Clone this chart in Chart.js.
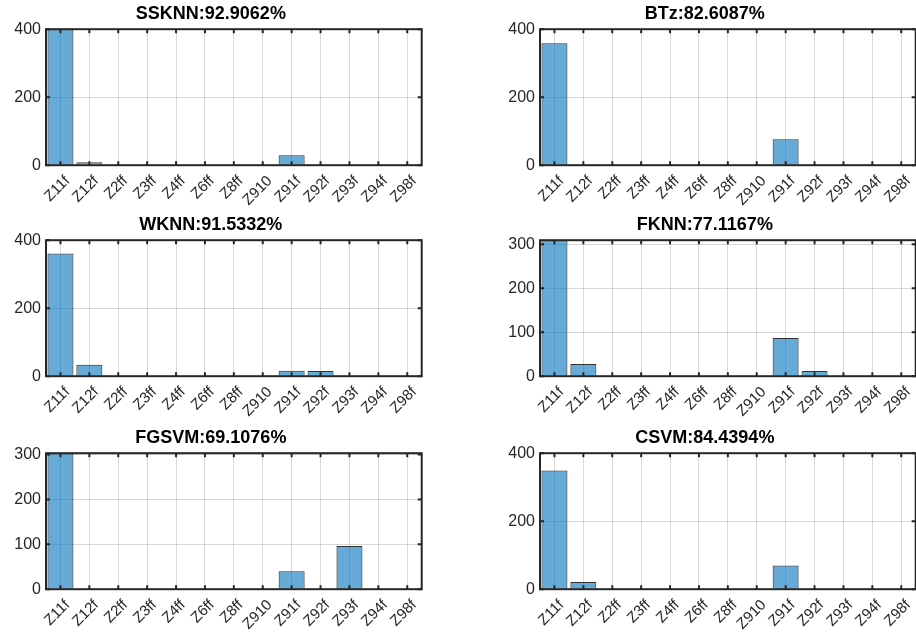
<!DOCTYPE html>
<html>
<head>
<meta charset="utf-8">
<script src="https://cdn.jsdelivr.net/npm/chart.js@4.4.1/dist/chart.umd.min.js"></script>
<style>
html, body { margin: 0; padding: 0; background: #fff; overflow: hidden; }
body { width: 916px; height: 636px; position: relative; }
canvas { position: absolute; }
</style>
</head>
<body>
<canvas id="c0" width="440" height="210" style="left:0px;top:0px"></canvas>
<canvas id="c1" width="441" height="210" style="left:494px;top:0px"></canvas>
<canvas id="c2" width="440" height="210" style="left:0px;top:211px"></canvas>
<canvas id="c3" width="441" height="210" style="left:494px;top:211px"></canvas>
<canvas id="c4" width="440" height="210" style="left:0px;top:424px"></canvas>
<canvas id="c5" width="441" height="210" style="left:494px;top:424px"></canvas>
<script>
// category labels shared by every panel
var categories = ['Z11f', 'Z12f', 'Z2ff', 'Z3ff', 'Z4ff', 'Z6ff', 'Z8ff', 'Z910', 'Z91f', 'Z92f', 'Z93f', 'Z94f', 'Z98f'];

// counts per class
var ssknn = [400, 9, 0, 0, 0, 0, 0, 0, 29, 0, 0, 0, 0];
var btz   = [359, 3, 0, 0, 0, 0, 0, 0, 76, 0, 0, 0, 0];
var wknn  = [361, 34, 0, 0, 0, 0, 0, 0, 16, 15, 0, 0, 0];
var fknn  = [309, 28, 0, 0, 0, 0, 0, 0, 87, 12, 0, 0, 0];
var fgsvm = [303, 0, 0, 0, 0, 0, 0, 0, 40, 0, 96, 0, 0];
var csvm  = [349, 21, 0, 0, 0, 0, 0, 0, 70, 0, 0, 0, 0];

var titles = ['SSKNN:92.9062%', 'BTz:82.6087%', 'WKNN:91.5332%', 'FKNN:77.1167%', 'FGSVM:69.1076%', 'CSVM:84.4394%'];
var series = [ssknn, btz, wknn, fknn, fgsvm, csvm];
var yMax = [400, 400, 400, 309, 303, 400];
var yStep = [200, 200, 200, 100, 100, 200];

var FONT = "'Liberation Sans', Arial, sans-serif";

// draws the closed axes box with inward tick marks
var boxPlugin = {
	id: 'matlabBox',
	afterDraw: function(chart) {
		var ctx = chart.ctx, a = chart.chartArea;
		var xs = chart.scales.x, ys = chart.scales.y;
		ctx.save();
		ctx.strokeStyle = '#262626';
		ctx.lineWidth = 2;
		ctx.strokeRect(a.left, a.top, a.right - a.left, a.bottom - a.top);
		ctx.beginPath();
		xs.ticks.forEach(function(t, i) {
			var x = xs.getPixelForTick(i);
			ctx.moveTo(x, a.bottom); ctx.lineTo(x, a.bottom - 4);
			ctx.moveTo(x, a.top); ctx.lineTo(x, a.top + 4);
		});
		ys.ticks.forEach(function(t, i) {
			var y = ys.getPixelForTick(i);
			ctx.moveTo(a.left, y); ctx.lineTo(a.left + 4, y);
			ctx.moveTo(a.right, y); ctx.lineTo(a.right - 4, y);
		});
		ctx.stroke();
		ctx.restore();
	}
};

series.forEach(function(values, k) {
	var canvas = document.getElementById('c' + k);
	var step = yStep[k];
	var top = yMax[k];
	new Chart(canvas.getContext('2d'), {
		type: 'bar',
		data: {
			labels: categories,
			datasets: [{
				data: values,
				backgroundColor: 'rgba(0, 114, 189, 0.6)',
				borderColor: 'rgba(0, 0, 0, 0.8)',
				borderWidth: 1,
				barPercentage: 0.9,
				categoryPercentage: 1
			}]
		},
		options: {
			responsive: false,
			animation: false,
			devicePixelRatio: 1,
			layout: { padding: { left: 0, right: canvas.width - 421.7, top: 0, bottom: 0 } },
			plugins: {
				legend: { display: false },
				tooltip: { enabled: false },
				title: {
					display: true,
					text: titles[k],
					color: '#000',
					font: { family: FONT, size: 18, weight: 'bold' },
					padding: { top: 3, bottom: 4.6 }
				}
			},
			scales: {
				x: {
					offset: true,
					grid: { offset: false, color: 'rgba(0,0,0,0.15)', drawTicks: false },
					border: { display: false },
					ticks: {
						autoSkip: false, minRotation: 45, maxRotation: 45,
						color: '#262626', padding: 7, labelOffset: 7,
						font: { family: FONT, size: 15 }
					},
					afterFit: function(s) { s.height = 44.8; }
				},
				y: {
					min: 0,
					max: top,
					grid: { color: 'rgba(0,0,0,0.15)', drawTicks: false },
					border: { display: false },
					ticks: {
						autoSkip: false, color: '#262626', padding: 5,
						font: { family: FONT, size: 16 }
					},
					afterBuildTicks: function(s) {
						var list = [];
						for (var v = 0; v <= top; v += step) list.push({ value: v });
						s.ticks = list;
					},
					afterFit: function(s) { s.width = 46; }
				}
			}
		},
		plugins: [boxPlugin]
	});
});
</script>
</body>
</html>
